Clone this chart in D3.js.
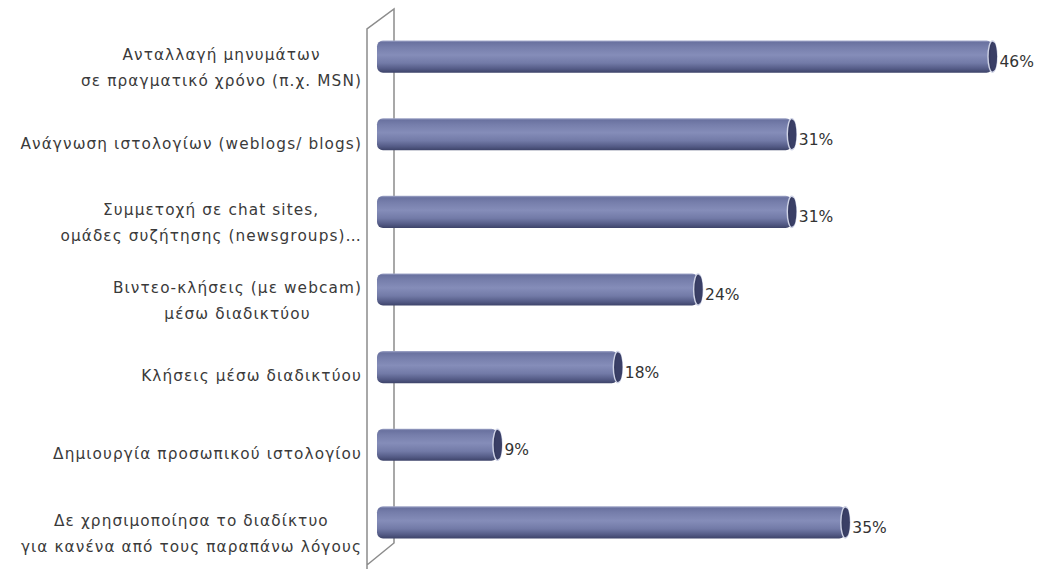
<!DOCTYPE html>
<html>
<head>
<meta charset="utf-8">
<script src="https://cdn.jsdelivr.net/npm/d3@7"></script>
<style>
  html, body { margin: 0; padding: 0; background: #ffffff; }
  svg { display: block; }
  .cat { font-family: "DejaVu Sans", sans-serif; font-size: 15.3px; letter-spacing: 1.1px; fill: #3a3a3a; }
  .val { font-family: "DejaVu Sans", sans-serif; font-size: 15.5px; fill: #333333; }
</style>
</head>
<body>
<svg id="chart" width="1047" height="569"></svg>
<script>
// Internet activities (share of respondents, %)
const categories = [
  ["Ανταλλαγή μηνυμάτων", "σε πραγματικό χρόνο (π.χ. MSN)"],
  ["Ανάγνωση ιστολογίων (weblogs/ blogs)"],
  ["Συμμετοχή σε chat sites,", "ομάδες συζήτησης (newsgroups)…"],
  ["Βιντεο-κλήσεις (με webcam)", "μέσω διαδικτύου"],
  ["Κλήσεις μέσω διαδικτύου"],
  ["Δημιουργία προσωπικού ιστολογίου"],
  ["Δε χρησιμοποίησα το διαδίκτυο", "για κανένα από τους παραπάνω λόγους"]
];
const values = [46, 31, 31, 24, 18, 9, 35];
const valueDomain = [0, 50];

const W = 1047, H = 569;
const svg = d3.select("#chart");

const x = d3.scaleLinear().domain(valueDomain).range([377, 1046]);
const y = d3.scaleBand()
  .domain(d3.range(categories.length))
  .range([18, 561])
  .paddingInner(0.585)
  .paddingOuter(0.29);

// Cylinder shading
const defs = svg.append("defs");
const grad = defs.append("linearGradient")
  .attr("id", "barGrad").attr("x1", 0).attr("y1", 0).attr("x2", 0).attr("y2", 1);
[
  [0, "#a4aacb"], [0.06, "#6a72a0"], [0.2, "#767eab"], [0.45, "#858db9"],
  [0.7, "#727aa7"], [0.88, "#545b86"], [1, "#3d4369"]
].forEach(([o, c]) => grad.append("stop").attr("offset", o).attr("stop-color", c));

// Side wall of the 3D plot area
const x0 = x(0);
const wallPath = d3.path();
wallPath.moveTo(x0 - 10, H);
wallPath.lineTo(x0 - 10, 29);
wallPath.lineTo(x0 + 17, 9);
wallPath.lineTo(x0 + 17, 543);
wallPath.lineTo(x0 - 10, 565);
svg.append("path")
  .attr("d", wallPath.toString())
  .attr("fill", "none")
  .attr("stroke", "#8c8c8c")
  .attr("stroke-width", 1.5);

const bh = y.bandwidth();
const rows = svg.append("g").selectAll("g")
  .data(values)
  .join("g")
  .attr("transform", (d, i) => `translate(0,${y(i)})`);

// bar body
rows.append("rect")
  .attr("x", x0)
  .attr("y", 0)
  .attr("width", d => x(d) - x0)
  .attr("height", bh)
  .attr("rx", 6).attr("ry", 6)
  .attr("fill", "url(#barGrad)");

// end cap
rows.append("ellipse")
  .attr("cx", d => x(d))
  .attr("cy", bh / 2)
  .attr("rx", 4.5)
  .attr("ry", bh / 2 - 0.5)
  .attr("fill", "#363b60")
  .attr("stroke", "#cfd3e6")
  .attr("stroke-width", 1.4);
rows.append("ellipse")
  .attr("cx", d => x(d) + 1.2)
  .attr("cy", bh / 2)
  .attr("rx", 3.4)
  .attr("ry", bh / 2 - 2)
  .attr("fill", "#3a3f66");

// value labels
rows.append("text")
  .attr("class", "val")
  .attr("x", d => x(d) + 7)
  .attr("y", bh / 2 + 5)
  .attr("dy", "0.35em")
  .text(d => d + "%");

// category labels: block right-aligned, lines centred within the block
const labelRight = 362;
const lineGap = 26;
categories.forEach((lines, i) => {
  const g = svg.append("g");
  const cy = y(i) + bh / 2 + (lines.length > 1 ? 11 : 9);
  const texts = lines.map((t, k) =>
    g.append("text")
      .attr("class", "cat")
      .attr("text-anchor", "middle")
      .attr("y", cy + (k - (lines.length - 1) / 2) * lineGap)
      .attr("dy", "0.35em")
      .text(t));
  const maxW = d3.max(texts, t => t.node().getComputedTextLength());
  texts.forEach(t => t.attr("x", labelRight - maxW / 2));
});
</script>
</body>
</html>
